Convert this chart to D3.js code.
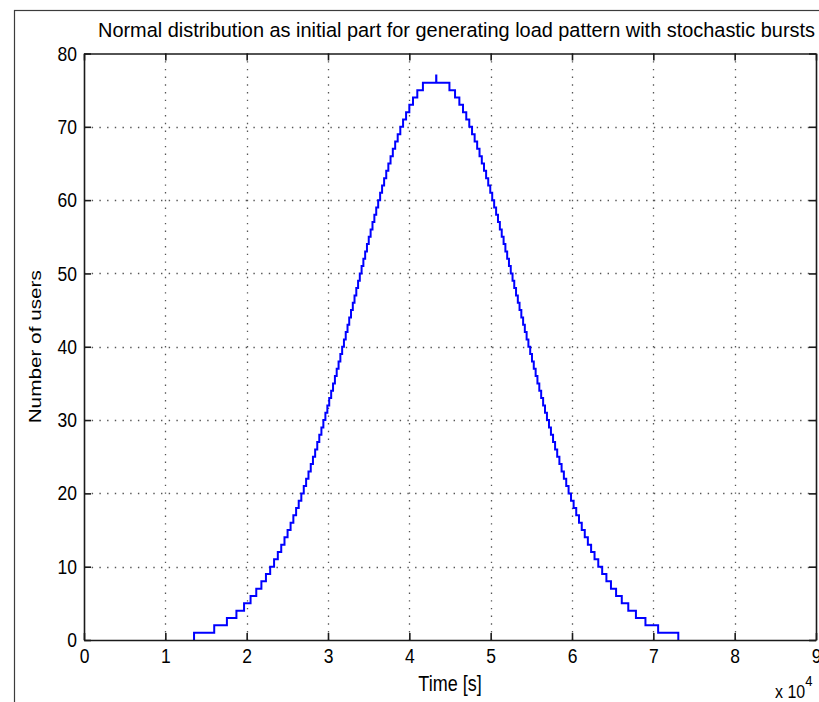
<!DOCTYPE html>
<html>
<head>
<meta charset="utf-8">
<script src="https://cdnjs.cloudflare.com/ajax/libs/d3/7.8.5/d3.min.js"></script>
<style>
body{margin:0;background:#fff;overflow:hidden;}
svg text{font-family:"Liberation Sans", Arial, sans-serif;fill:#000;}
</style>
</head>
<body>
<div id="chart"></div>
<script>
// step times [s], users after each step
var stepTimes = [
    13530, 16010, 17570, 18740, 19680, 20480, 21180, 21810, 22370, 22890,
    23370, 23830, 24250, 24650, 25030, 25400, 25740, 26080, 26400, 26720,
    27020, 27310, 27600, 27880, 28150, 28420, 28680, 28930, 29190, 29430,
    29680, 29920, 30150, 30390, 30620, 30850, 31070, 31300, 31520, 31740,
    31960, 32180, 32400, 32610, 32830, 33050, 33260, 33480, 33700, 33910,
    34130, 34350, 34570, 34790, 35010, 35240, 35470, 35700, 35930, 36170,
    36410, 36650, 36900, 37160, 37420, 37690, 37970, 38260, 38570, 38890,
    39230, 39600, 40000, 40450, 40980, 41670,
    43300, 43320,
    44930, 45620, 46150, 46600, 47000, 47370, 47710, 48030, 48340, 48630,
    48910, 49180, 49440, 49700, 49950, 50190, 50430, 50670, 50900, 51130,
    51360, 51590, 51810, 52030, 52250, 52470, 52690, 52900, 53120, 53340,
    53550, 53770, 53990, 54200, 54420, 54640, 54860, 55080, 55300, 55530,
    55750, 55980, 56210, 56450, 56680, 56920, 57170, 57410, 57670, 57920,
    58180, 58450, 58720, 59000, 59290, 59580, 59880, 60200, 60520, 60860,
    61200, 61570, 61950, 62350, 62770, 63230, 63710, 64230, 64790, 65420,
    66120, 66920, 67860, 69030, 70590, 73070
];
var stepUsers = [
    1, 2, 3, 4, 5, 6, 7, 8, 9, 10,
    11, 12, 13, 14, 15, 16, 17, 18, 19, 20,
    21, 22, 23, 24, 25, 26, 27, 28, 29, 30,
    31, 32, 33, 34, 35, 36, 37, 38, 39, 40,
    41, 42, 43, 44, 45, 46, 47, 48, 49, 50,
    51, 52, 53, 54, 55, 56, 57, 58, 59, 60,
    61, 62, 63, 64, 65, 66, 67, 68, 69, 70,
    71, 72, 73, 74, 75, 76,
    77, 76,
    75, 74, 73, 72, 71, 70, 69, 68, 67, 66,
    65, 64, 63, 62, 61, 60, 59, 58, 57, 56,
    55, 54, 53, 52, 51, 50, 49, 48, 47, 46,
    45, 44, 43, 42, 41, 40, 39, 38, 37, 36,
    35, 34, 33, 32, 31, 30, 29, 28, 27, 26,
    25, 24, 23, 22, 21, 20, 19, 18, 17, 16,
    15, 14, 13, 12, 11, 10, 9, 8, 7, 6,
    5, 4, 3, 2, 1, 0
];
var xTicks = [0, 10000, 20000, 30000, 40000, 50000, 60000, 70000, 80000, 90000];
var yTicks = [0, 10, 20, 30, 40, 50, 60, 70, 80];
var titleText = 'Normal distribution as initial part for generating load pattern with stochastic bursts';
var xLabel = 'Time [s]';
var yLabel = 'Number of users';

// the screenshot is a bit stretched vertically, so texts are too
var STRETCH = 1.18;

function StepChart(times, users){
    this.times = times;
    this.users = users;
    this.sizes = {width: 819, height: 702};
    this.box = {left: 84, right: 816, top: 53.5, bottom: 640};
}

StepChart.prototype.make_svg = function(){
    if(document.querySelector('svg')){
        d3.select('svg').remove();
    }
    this.svg = d3.select('#chart').append('svg')
        .attr('width', this.sizes.width)
        .attr('height', this.sizes.height);
    // figure frame
    this.svg.append('rect')
        .attr('x', 14.5).attr('y', 10.5)
        .attr('width', 900).attr('height', 900)
        .attr('fill', 'none')
        .attr('stroke', '#3c3c3c')
        .attr('stroke-width', 1.2);
};

StepChart.prototype.make_scales = function(){
    var b = this.box;
    this.x = d3.scaleLinear().domain([0, 90000]).range([b.left, b.right]);
    this.y = d3.scaleLinear().domain([0, 80]).range([b.bottom, b.top]);
};

StepChart.prototype.add_grid = function(){
    var x = this.x, y = this.y, b = this.box;
    var g = this.svg.append('g').attr('class', 'grid')
        .attr('stroke', '#555')
        .attr('stroke-width', 1.3)
        .attr('stroke-dasharray', '1.4,6.3');
    g.selectAll('line.gx')
        .data(xTicks.slice(1, -1))
        .enter().append('line')
        .attr('class', 'gx')
        .attr('x1', function(d){ return Math.round(x(d)) + 0.5; })
        .attr('x2', function(d){ return Math.round(x(d)) + 0.5; })
        .attr('y1', b.top).attr('y2', b.bottom);
    g.selectAll('line.gy')
        .data(yTicks.slice(1, -1))
        .enter().append('line')
        .attr('class', 'gy')
        .attr('y1', function(d){ return Math.round(y(d)) + 0.5; })
        .attr('y2', function(d){ return Math.round(y(d)) + 0.5; })
        .attr('x1', b.left).attr('x2', b.right);
};

StepChart.prototype.update = function(){
    var x = this.x, y = this.y;
    var pts = [[this.times[0], 0]];
    for (var i = 0, j = this.times.length; i < j; i++){
        pts.push([this.times[i], this.users[i]]);
    }
    var line = d3.line()
        .curve(d3.curveStepAfter)
        .x(function(d){ return x(d[0]); })
        .y(function(d){ return y(d[1]); });
    this.svg.append('path')
        .datum(pts)
        .attr('d', line)
        .attr('fill', 'none')
        .attr('stroke', '#0000ff')
        .attr('stroke-width', 2);
};

StepChart.prototype.add_axes = function(){
    var x = this.x, y = this.y, b = this.box, svg = this.svg;
    var fmt = function(d){ return d / 10000; };

    var bottom = svg.append('g')
        .attr('transform', 'translate(0,' + b.bottom + ')')
        .call(d3.axisBottom(x).tickValues(xTicks).tickFormat(fmt)
            .tickSizeInner(-7).tickSizeOuter(0).tickPadding(7.5));
    var top = svg.append('g')
        .attr('transform', 'translate(0,' + b.top + ')')
        .call(d3.axisTop(x).tickValues(xTicks).tickFormat('')
            .tickSizeInner(-7).tickSizeOuter(0));
    var left = svg.append('g')
        .attr('transform', 'translate(' + b.left + ',0)')
        .call(d3.axisLeft(y).tickValues(yTicks)
            .tickSizeInner(-7).tickSizeOuter(0).tickPadding(7));
    var right = svg.append('g')
        .attr('transform', 'translate(' + b.right + ',0)')
        .call(d3.axisRight(y).tickValues(yTicks).tickFormat('')
            .tickSizeInner(-7).tickSizeOuter(0));

    [bottom, top, left, right].forEach(function(g){
        g.selectAll('path.domain').attr('stroke', '#1a1a1a').attr('stroke-width', 1.6);
        g.selectAll('.tick line').attr('stroke', '#1a1a1a').attr('stroke-width', 1.6);
        g.selectAll('.tick text')
            .attr('font-size', 17.5)
            .attr('font-family', '"Liberation Sans", Arial, sans-serif')
            .attr('fill', '#000')
            .attr('transform', 'scale(1,' + STRETCH + ')');
    });
};

StepChart.prototype.add_info = function(){
    var svg = this.svg, b = this.box;
    svg.append('text')
        .attr('transform', 'translate(98,37) scale(1,' + STRETCH + ')')
        .attr('font-size', 16.5)
        .attr('textLength', 717)
        .attr('lengthAdjust', 'spacingAndGlyphs')
        .text(titleText);
    svg.append('text')
        .attr('transform', 'translate(' + ((b.left + b.right) / 2) + ',691) scale(1,' + STRETCH + ')')
        .attr('text-anchor', 'middle')
        .attr('font-size', 18)
        .text(xLabel);
    // rotated label: stretch runs along its length
    svg.append('text')
        .attr('transform', 'translate(41,' + ((b.top + b.bottom) / 2) + ') rotate(-90) scale(1.22,1)')
        .attr('text-anchor', 'middle')
        .attr('font-size', 17)
        .text(yLabel);
    // x 10^4 multiplier
    var m = svg.append('text')
        .attr('transform', 'translate(775,698) scale(1,' + STRETCH + ')')
        .attr('font-size', 16);
    m.append('tspan').text('x 10');
    m.append('tspan').attr('dy', -10).attr('font-size', 13).text('4');
};

StepChart.prototype.runit = function(){
    this.make_svg();
    this.make_scales();
    this.add_grid();
    this.update();
    this.add_axes();
    this.add_info();
};

var chart = new StepChart(stepTimes, stepUsers);
chart.runit();
</script>
</body>
</html>
